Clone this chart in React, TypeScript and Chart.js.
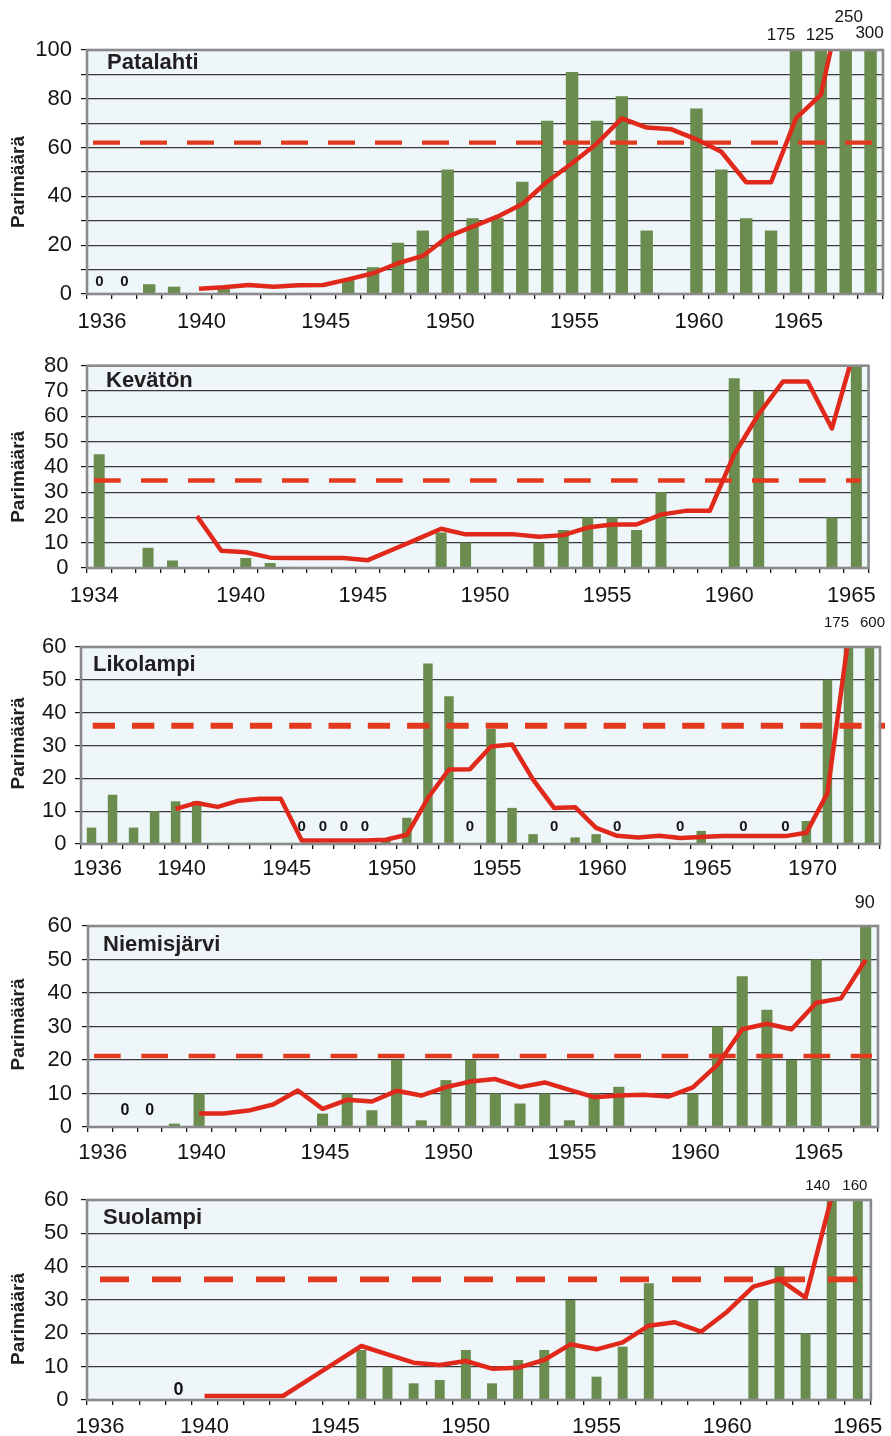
import React, { useEffect, useRef } from "react";
import { Chart, registerables } from "chart.js";

Chart.register(...registerables);

const FONT = '"Liberation Sans", Arial, Helvetica, sans-serif';
const GREEN = "#6a8c4e";
const RED = "#e0281b";
const DASH_RED = "#e33a1f";
const BG = "#eef6fa";
const FRAME = "#8a8a8a";
const TEXT = "#141414";
const TITLE = "#231f20";

// ---------------- Patalahti ----------------
const patalahtiYears = [1936, 1937, 1938, 1939, 1940, 1941, 1942, 1943, 1944, 1945, 1946, 1947, 1948, 1949, 1950, 1951, 1952, 1953, 1954, 1955, 1956, 1957, 1958, 1959, 1960, 1961, 1962, 1963, 1964, 1965, 1966, 1967];
const patalahtiTicks = ["1936", "", "", "", "1940", "", "", "", "", "1945", "", "", "", "", "1950", "", "", "", "", "1955", "", "", "", "", "1960", "", "", "", "1965", "", "", ""];
const patalahtiPairs = [0, 0, 4, 3, null, 2, null, null, null, null, 6, 11, 21, 26, 51, 31, 31, 46, 71, 91, 71, 81, 26, null, 76, 51, 31, 26, 175, 125, 250, 300];
const patalahtiTrend = [null, null, null, null, 2.2, 2.8, 3.7, 3.0, 3.6, 3.7, 6.0, 8.5, 12.6, 15.6, 23.5, 27.6, 31.7, 36.9, 46, 53.6, 61.7, 72, 68.2, 67.5, 63.4, 58.3, 45.8, 45.8, 72, 81.6, 128, null];
const patalahtiMean = 62;

// ---------------- Kevätön ----------------
const kevatonYears = [1934, 1935, 1936, 1937, 1938, 1939, 1940, 1941, 1942, 1943, 1944, 1945, 1946, 1947, 1948, 1949, 1950, 1951, 1952, 1953, 1954, 1955, 1956, 1957, 1958, 1959, 1960, 1961, 1962, 1963, 1964, 1965];
const kevatonTicks = ["1934", "", "", "", "", "", "1940", "", "", "", "", "1945", "", "", "", "", "1950", "", "", "", "", "1955", "", "", "", "", "1960", "", "", "", "", "1965"];
const kevatonPairs = [45, null, 8, 3, null, null, 4, 2, null, null, null, null, null, null, 14, 10, null, null, 10, 15, 20, 20, 15, 30, null, null, 75, 70, null, null, 20, 80];
const kevatonTrend = [null, null, null, null, 20.5, 6.8, 6.2, 4.1, 4.0, 4.0, 4.0, 3.1, 7.2, 11.3, 15.5, 13.3, 13.3, 13.3, 12.4, 13.0, 16.0, 17.2, 17.2, 21.1, 22.6, 22.6, 45, 60.8, 73.8, 73.8, 55.2, 89];
const kevatonMean = 34.6;

// ---------------- Likolampi ----------------
const likolampiYears = [1936, 1937, 1938, 1939, 1940, 1941, 1942, 1943, 1944, 1945, 1946, 1947, 1948, 1949, 1950, 1951, 1952, 1953, 1954, 1955, 1956, 1957, 1958, 1959, 1960, 1961, 1962, 1963, 1964, 1965, 1966, 1967, 1968, 1969, 1970, 1971, 1972, 1973];
const likolampiTicks = ["1936", "", "", "", "1940", "", "", "", "", "1945", "", "", "", "", "1950", "", "", "", "", "1955", "", "", "", "", "1960", "", "", "", "", "1965", "", "", "", "", "1970", "", "", ""];
const likolampiPairs = [5, 15, 5, 10, 13, 13, null, null, null, null, 0, 0, 0, 0, 1, 8, 55, 45, 0, 35, 11, 3, 0, 2, 3, 0, null, null, 0, 4, null, 0, null, 0, 7, 50, 175, 600];
const likolampiTrend = [null, null, null, null, 10.7, 12.5, 11.3, 13.2, 13.8, 13.8, 1.1, 1.1, 1.1, 1.1, 1.3, 2.8, 14, 22.7, 22.8, 29.7, 30.3, 19.6, 11, 11.2, 4.9, 2.5, 2.0, 2.5, 1.8, 2.1, 2.4, 2.4, 2.4, 2.4, 3.4, 15.5, 63, null];
const likolampiMean = 36;

// ---------------- Niemisjärvi ----------------
const niemisYears = [1936, 1937, 1938, 1939, 1940, 1941, 1942, 1943, 1944, 1945, 1946, 1947, 1948, 1949, 1950, 1951, 1952, 1953, 1954, 1955, 1956, 1957, 1958, 1959, 1960, 1961, 1962, 1963, 1964, 1965, 1966, 1967];
const niemisTicks = ["1936", "", "", "", "1940", "", "", "", "", "1945", "", "", "", "", "1950", "", "", "", "", "1955", "", "", "", "", "1960", "", "", "", "", "1965", "", ""];
const niemisPairs = [null, 0, 0, 1, 10, null, null, null, null, 4, 10, 5, 20, 2, 14, 20, 10, 7, 10, 2, 10, 12, null, null, 10, 30, 45, 35, 20, 50, null, 90];
const niemisTrend = [null, null, null, null, 4.0, 4.0, 4.9, 6.7, 10.9, 5.4, 8.1, 7.6, 10.8, 9.4, 11.9, 13.6, 14.3, 11.9, 13.3, 11.1, 8.9, 9.4, 9.6, 9.1, 11.8, 18.6, 29.2, 30.8, 29.2, 37.1, 38.4, 49.9];
const niemisMean = 21.2;

// ---------------- Suolampi ----------------
const suolampiYears = [1936, 1937, 1938, 1939, 1940, 1941, 1942, 1943, 1944, 1945, 1946, 1947, 1948, 1949, 1950, 1951, 1952, 1953, 1954, 1955, 1956, 1957, 1958, 1959, 1960, 1961, 1962, 1963, 1964, 1965];
const suolampiTicks = ["1936", "", "", "", "1940", "", "", "", "", "1945", "", "", "", "", "1950", "", "", "", "", "1955", "", "", "", "", "1960", "", "", "", "", "1965"];
const suolampiPairs = [null, null, null, 0, null, null, null, null, null, null, 15, 10, 5, 6, 15, 5, 12, 15, 30, 7, 16, 35, null, null, null, 30, 40, 20, 140, 160];
const suolampiTrend = [null, null, null, null, 1.2, 1.2, 1.2, 1.2, 6.2, 11.2, 16.2, 13.7, 11.2, 10.5, 11.7, 9.4, 9.7, 12, 16.7, 15.2, 17.3, 22.3, 23.3, 20.5, 26.5, 34, 36.2, 30.7, 61, null];
const suolampiMean = 36.2;

type PanelCfg = {
  name: string;
  years: number[];
  ticks: string[];
  bars: (number | null)[];
  trend: (number | null)[];
  mean: number;
  yMax: number;
  yLabelEvery: number;
  style: any;
};

const PANELS: PanelCfg[] = [
  {
    name: "Patalahti", years: patalahtiYears, ticks: patalahtiTicks, bars: patalahtiPairs, trend: patalahtiTrend, mean: patalahtiMean,
    yMax: 100, yLabelEvery: 20,
    style: {
      top: 0, height: 340, area: { left: 87, right: 883, top: 50, bottom: 294 },
      barPct: 0.5, xPad: 10, yPad: 9, labelOffset: 2.5,
      title: { dx: 20, dy: 13 }, yTitleDy: 10,
      dash: { from: 6, to: 5, pattern: [27, 20], width: 4.3 },
      zero: { size: 15, dy: 12 },
      overflow: { size: 17, dx: [-15, -1, 3, -1], dy: [-15, -15, -33, -17] },
    },
  },
  {
    name: "Kevätön", years: kevatonYears, ticks: kevatonTicks, bars: kevatonPairs, trend: kevatonTrend, mean: kevatonMean,
    yMax: 80, yLabelEvery: 10,
    style: {
      top: 340, height: 270, area: { left: 87, right: 880, top: 13, bottom: 228 },
      barPct: 0.45, xPad: 10, yPad: 12.5, labelOffset: -5,
      title: { dx: 19, dy: 15 }, yTitleDy: 10,
      dash: { from: 7, to: -8, pattern: [26.7, 20.3], width: 4.3 },
      zero: { size: 15, dy: 12 },
      overflow: { size: 15, dx: [], dy: [] },
    },
  },
  {
    name: "Likolampi", years: likolampiYears, ticks: likolampiTicks, bars: likolampiPairs, trend: likolampiTrend, mean: likolampiMean,
    yMax: 60, yLabelEvery: 10,
    style: {
      top: 610, height: 280, area: { left: 81, right: 880, top: 37, bottom: 234 },
      barPct: 0.45, xPad: 7, yPad: 8.5, labelOffset: 6,
      title: { dx: 12, dy: 18 }, yTitleDy: -2,
      dash: { from: 11.7, to: 5, pattern: [22.3, 17], width: 6 },
      zero: { size: 15, dy: 17 },
      overflow: { size: 15, dx: [-12, 3], dy: [-24, -24] },
    },
  },
  {
    name: "Niemisjärvi", years: niemisYears, ticks: niemisTicks, bars: niemisPairs, trend: niemisTrend, mean: niemisMean,
    yMax: 60, yLabelEvery: 10,
    style: {
      top: 890, height: 280, area: { left: 88, right: 878, top: 36, bottom: 237 },
      barPct: 0.45, xPad: 8, yPad: 10, labelOffset: 2.5,
      title: { dx: 15, dy: 19 }, yTitleDy: -2,
      dash: { from: 6, to: -6, pattern: [26.7, 20.6], width: 4.6 },
      zero: { size: 16, dy: 16 },
      overflow: { size: 18, dx: [-1], dy: [-23] },
    },
  },
  {
    name: "Suolampi", years: suolampiYears, ticks: suolampiTicks, bars: suolampiPairs, trend: suolampiTrend, mean: suolampiMean,
    yMax: 60, yLabelEvery: 10,
    style: {
      top: 1170, height: 266, area: { left: 87, right: 879, top: 30, bottom: 230 },
      barPct: 0.38, xPad: 8.5, yPad: 12.5, labelOffset: 0,
      title: { dx: 16, dy: 18 }, yTitleDy: 19,
      dash: { from: 13, to: 6, pattern: [29, 23], width: 5.6 },
      zero: { size: 18, dy: 10 },
      overflow: { size: 15, dx: [-14, -3], dy: [-14, -14] },
    },
  },
];

function makePlugin(p: PanelCfg) {
  const s = p.style;
  return {
    id: "decor",
    beforeDraw(chart: any) {
      const { ctx, chartArea: a } = chart;
      ctx.save();
      ctx.fillStyle = BG;
      ctx.fillRect(a.left, a.top, a.right - a.left, a.bottom - a.top);
      ctx.restore();
    },
    afterDatasetDraw(chart: any, args: any) {
      if (args.index !== 0) return;
      const { ctx, chartArea: a } = chart;
      const y = chart.scales.y.getPixelForValue(p.mean);
      ctx.save();
      ctx.strokeStyle = DASH_RED;
      ctx.lineWidth = s.dash.width;
      ctx.setLineDash(s.dash.pattern);
      ctx.beginPath();
      ctx.moveTo(a.left + s.dash.from, y);
      ctx.lineTo(a.right + s.dash.to, y);
      ctx.stroke();
      ctx.restore();
    },
    afterDraw(chart: any) {
      const { ctx, chartArea: a } = chart;
      const meta = chart.getDatasetMeta(0);
      ctx.save();
      // frame
      ctx.strokeStyle = FRAME;
      ctx.lineWidth = 2.6;
      ctx.strokeRect(a.left, a.top, a.right - a.left, a.bottom - a.top);
      // panel title
      ctx.fillStyle = TITLE;
      ctx.font = `bold 22px ${FONT}`;
      ctx.textAlign = "left";
      ctx.textBaseline = "middle";
      ctx.fillText(p.name, a.left + s.title.dx, a.top + s.title.dy);
      // y-axis title
      ctx.save();
      ctx.translate(19, (a.top + a.bottom) / 2 + s.yTitleDy);
      ctx.rotate(-Math.PI / 2);
      ctx.textAlign = "center";
      ctx.font = `bold 19px ${FONT}`;
      ctx.fillText("Parimäärä", 0, 0);
      ctx.restore();
      // zero labels and overflow labels
      ctx.fillStyle = TEXT;
      ctx.textAlign = "center";
      ctx.textBaseline = "middle";
      let k = 0;
      p.bars.forEach((v, i) => {
        if (v === null) return;
        const el = meta.data[i];
        if (!el) return;
        if (v === 0) {
          ctx.font = `bold ${s.zero.size}px ${FONT}`;
          ctx.fillText("0", el.x, a.bottom - s.zero.dy);
        } else if (v > p.yMax) {
          ctx.font = `${s.overflow.size}px ${FONT}`;
          ctx.fillText(String(v), el.x + (s.overflow.dx[k] || 0), a.top + (s.overflow.dy[k] ?? -15));
          k++;
        }
      });
      ctx.restore();
    },
  };
}

function Panel({ p }: { p: PanelCfg }) {
  const ref = useRef<HTMLCanvasElement>(null);
  useEffect(() => {
    const s = p.style;
    const canvas = ref.current!;
    const chart = new Chart(canvas, {
      type: "bar",
      data: {
        labels: p.years.map(String),
        datasets: [
          {
            type: "bar",
            data: p.bars,
            backgroundColor: GREEN,
            barPercentage: s.barPct,
            categoryPercentage: 1,
            order: 2,
          } as any,
          {
            type: "line",
            data: p.trend,
            borderColor: RED,
            borderWidth: 4.5,
            pointRadius: 0,
            tension: 0,
            fill: false,
            spanGaps: false,
            borderJoinStyle: "round",
            order: 1,
          } as any,
        ],
      },
      options: {
        responsive: false,
        animation: false,
        devicePixelRatio: 1,
        layout: { padding: { left: 0, top: s.area.top, right: 891 - s.area.right, bottom: 0 } },
        plugins: { legend: { display: false }, tooltip: { enabled: false } },
        scales: {
          x: {
            type: "category",
            offset: true,
            grid: { offset: true, drawOnChartArea: false, drawTicks: true, tickLength: 5, color: "#111", tickColor: "#111", lineWidth: 1.3 },
            border: { display: false },
            ticks: {
              autoSkip: false,
              maxRotation: 0,
              minRotation: 0,
              padding: s.xPad,
              labelOffset: s.labelOffset,
              color: TEXT,
              font: { family: FONT, size: 22 },
              callback: (_v: any, i: number) => p.ticks[i],
            },
            afterFit: (scale: any) => { scale.height = s.height - s.area.bottom; },
          },
          y: {
            min: 0,
            max: p.yMax,
            grid: { color: "#3a3a3a", lineWidth: 1.2, tickLength: 6, tickColor: "#111" },
            border: { display: false },
            ticks: {
              stepSize: 10,
              autoSkip: false,
              padding: s.yPad,
              color: TEXT,
              font: { family: FONT, size: 22 },
              callback: (v: any) => (Number(v) % p.yLabelEvery === 0 ? String(v) : ""),
            },
            afterFit: (scale: any) => { scale.width = s.area.left; },
          },
        },
      } as any,
      plugins: [makePlugin(p)],
    });
    return () => chart.destroy();
  }, []);
  return (
    <canvas
      ref={ref}
      width={891}
      height={p.style.height}
      style={{ position: "absolute", left: 0, top: p.style.top, width: 891, height: p.style.height }}
    />
  );
}

export default function App() {
  return (
    <div style={{ position: "absolute", left: 0, top: 0, width: 891, height: 1436, background: "#ffffff" }}>
      {PANELS.map((p) => (
        <Panel key={p.name} p={p} />
      ))}
    </div>
  );
}
